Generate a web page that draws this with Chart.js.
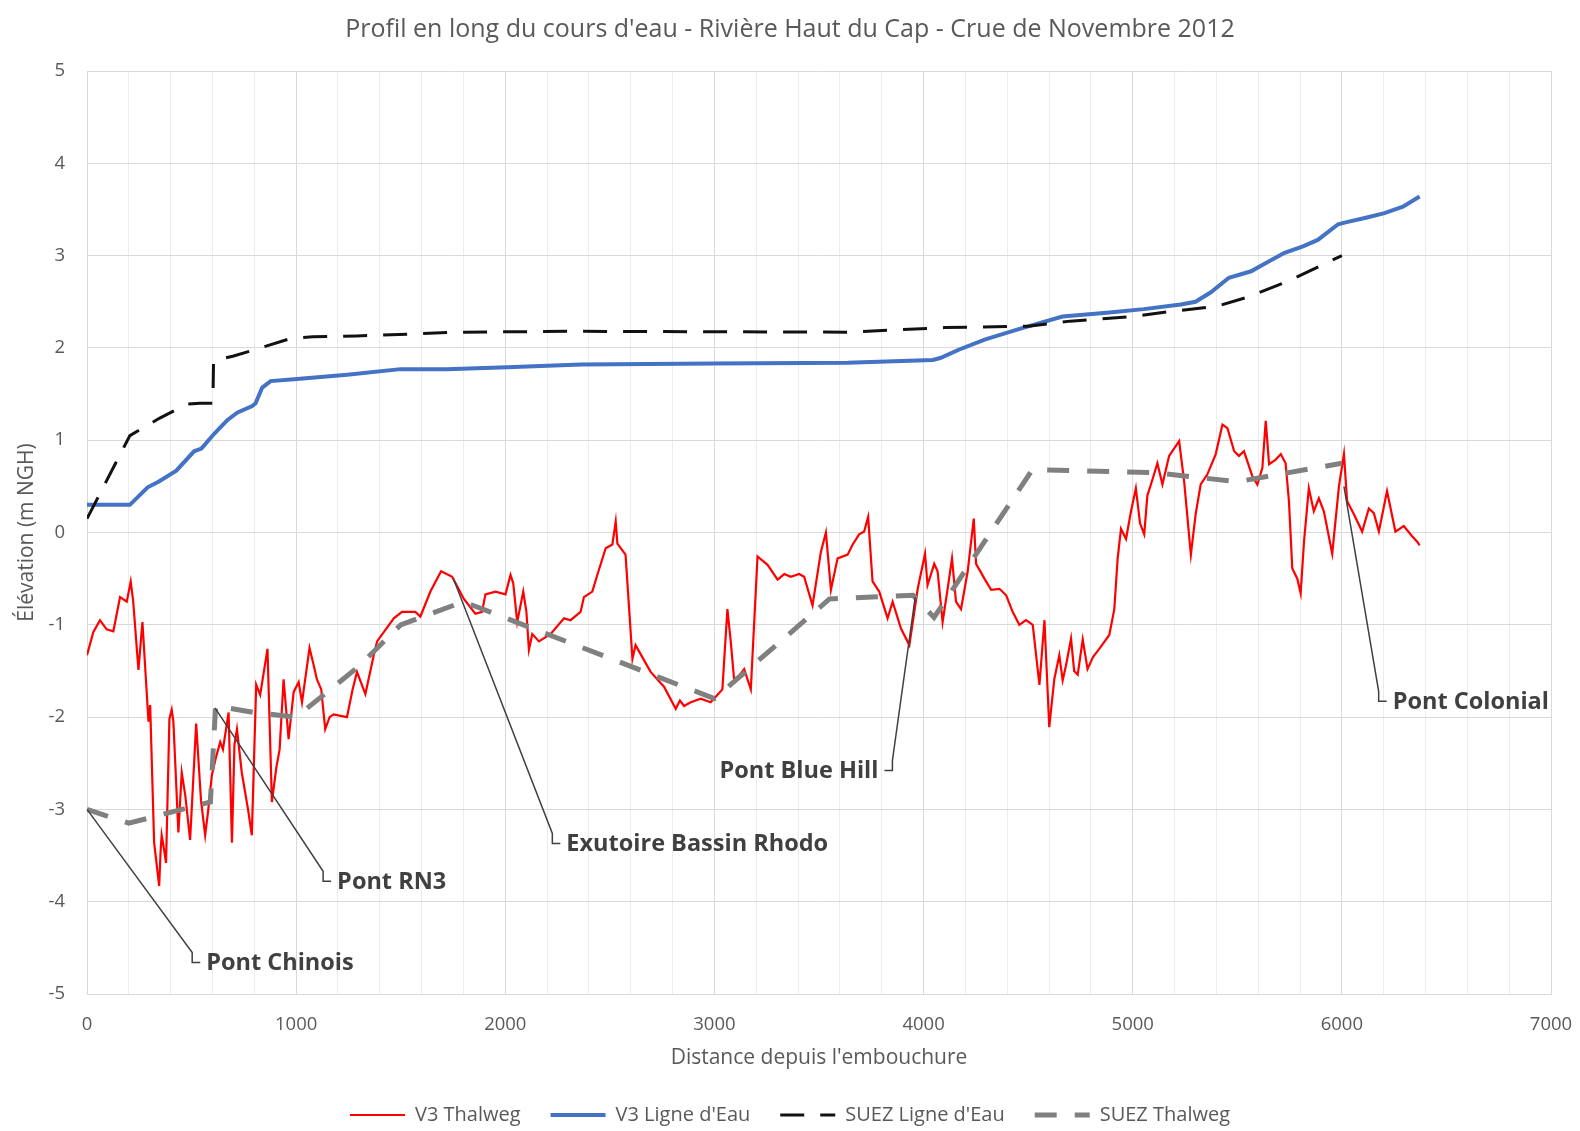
<!DOCTYPE html>
<html>
<head>
<meta charset="utf-8">
<script src="https://cdn.jsdelivr.net/npm/chart.js@4.4.1/dist/chart.umd.min.js"></script>
<style>
  html, body { margin: 0; padding: 0; background: #fff; }
  canvas { display: block; }
</style>
</head>
<body>
<canvas id="chart" width="1580" height="1131"></canvas>
<script>
const TITLE = "Profil en long du cours d'eau - Rivière Haut du Cap - Crue de Novembre 2012"

// V3 Thalweg (red)
const thalwegV3X = [0, 30, 62, 94, 126, 158, 190, 209, 221, 246, 265, 294, 302, 321, 345, 352, 357, 366, 378, 394, 405, 413, 437, 453, 470, 493, 522, 545, 565, 580, 597, 615, 637, 650, 677, 693, 705, 717, 740, 770, 788, 809, 828, 863, 884, 905, 921, 940, 964, 988, 1012, 1028, 1064, 1085, 1099, 1120, 1139, 1160, 1179, 1243, 1270, 1291, 1331, 1371, 1387, 1419, 1467, 1506, 1570, 1594, 1642, 1693, 1746, 1802, 1857, 1889, 1905, 1953, 2001, 2025, 2038, 2057, 2086, 2101, 2113, 2129, 2161, 2217, 2281, 2312, 2360, 2376, 2416, 2440, 2480, 2512, 2528, 2536, 2575, 2608, 2623, 2655, 2695, 2759, 2815, 2835, 2855, 2887, 2934, 2982, 3014, 3038, 3062, 3078, 3094, 3118, 3142, 3174, 3206, 3254, 3302, 3334, 3365, 3405, 3429, 3469, 3509, 3533, 3557, 3589, 3637, 3661, 3692, 3716, 3735, 3756, 3788, 3828, 3852, 3892, 3932, 3972, 4007, 4019, 4051, 4067, 4091, 4115, 4136, 4155, 4179, 4211, 4240, 4251, 4291, 4323, 4363, 4395, 4426, 4458, 4490, 4522, 4554, 4578, 4601, 4625, 4649, 4665, 4681, 4705, 4720, 4737, 4761, 4784, 4810, 4840, 4888, 4912, 4928, 4944, 4968, 4991, 5015, 5035, 5055, 5070, 5087, 5118, 5142, 5174, 5222, 5246, 5278, 5301, 5325, 5357, 5397, 5429, 5453, 5485, 5508, 5532, 5572, 5596, 5620, 5636, 5652, 5684, 5708, 5731, 5747, 5763, 5787, 5803, 5819, 5842, 5866, 5890, 5914, 5954, 5986, 6010, 6025, 6057, 6097, 6129, 6153, 6177, 6216, 6256, 6296, 6336, 6360, 6372]
const thalwegV3Y = [-1.33, -1.08, -0.95, -1.05, -1.07, -0.70, -0.75, -0.53, -0.75, -1.49, -0.97, -2.05, -1.87, -3.36, -3.83, -3.45, -3.28, -3.40, -3.58, -2.02, -1.92, -2.05, -3.25, -2.6, -2.85, -3.33, -2.07, -2.9, -3.28, -3.0, -2.63, -2.45, -2.27, -2.35, -1.95, -3.36, -2.3, -2.13, -2.6, -3.0, -3.28, -1.65, -1.76, -1.26, -2.92, -2.55, -2.35, -1.59, -2.24, -1.73, -1.62, -1.84, -1.25, -1.45, -1.59, -1.7, -2.13, -2.0, -1.97, -2.0, -1.7, -1.51, -1.75, -1.33, -1.18, -1.08, -0.93, -0.86, -0.86, -0.91, -0.64, -0.42, -0.48, -0.72, -0.88, -0.86, -0.67, -0.64, -0.67, -0.46, -0.55, -0.97, -0.64, -0.86, -1.27, -1.10, -1.18, -1.10, -0.93, -0.95, -0.86, -0.70, -0.64, -0.46, -0.17, -0.13, 0.12, -0.12, -0.24, -1.37, -1.22, -1.35, -1.51, -1.67, -1.91, -1.82, -1.88, -1.84, -1.80, -1.84, -1.76, -1.70, -0.83, -1.18, -1.59, -1.55, -1.48, -1.70, -0.26, -0.35, -0.51, -0.45, -0.48, -0.45, -0.48, -0.79, -0.21, 0.0, -0.62, -0.28, -0.24, -0.13, -0.02, 0.01, 0.17, -0.53, -0.64, -0.93, -0.75, -1.04, -1.22, -0.61, -0.23, -0.57, -0.34, -0.42, -0.97, -0.61, -0.28, -0.75, -0.83, -0.42, 0.15, -0.34, -0.5, -0.62, -0.61, -0.68, -0.86, -1.0, -0.95, -1.0, -1.65, -0.95, -2.11, -1.59, -1.33, -1.6, -1.44, -1.15, -1.5, -1.54, -1.16, -1.48, -1.35, -1.26, -1.11, -0.83, -0.28, 0.04, -0.07, 0.22, 0.48, 0.1, -0.02, 0.4, 0.52, 0.75, 0.52, 0.83, 0.99, 0.55, -0.24, 0.2, 0.52, 0.63, 0.85, 1.17, 1.13, 0.88, 0.83, 0.88, 0.61, 0.52, 0.7, 1.21, 0.74, 0.79, 0.85, 0.75, 0.34, -0.39, -0.5, -0.66, -0.1, 0.48, 0.23, 0.37, 0.23, -0.23, 0.5, 0.85, 0.34, 0.2, 0.01, 0.26, 0.21, 0.01, 0.45, 0.01, 0.07, -0.04, -0.1, -0.14]

// V3 Ligne d'Eau (blue)
const ligneV3X = [0, 205, 290, 342, 427, 512, 547, 608, 672, 720, 790, 806, 838, 878, 990, 1244, 1499, 1720, 2009, 2363, 3000, 3637, 4044, 4080, 4168, 4292, 4451, 4664, 4876, 5053, 5230, 5300, 5372, 5460, 5566, 5637, 5726, 5814, 5885, 5982, 6018, 6115, 6204, 6292, 6372]
const ligneV3Y = [0.3, 0.3, 0.49, 0.55, 0.67, 0.88, 0.91, 1.07, 1.22, 1.3, 1.37, 1.4, 1.57, 1.64, 1.66, 1.71, 1.77, 1.77, 1.79, 1.82, 1.83, 1.84, 1.87, 1.89, 1.98, 2.09, 2.2, 2.34, 2.38, 2.42, 2.47, 2.5, 2.6, 2.76, 2.83, 2.92, 3.03, 3.1, 3.17, 3.34, 3.36, 3.41, 3.46, 3.53, 3.64]

// SUEZ Ligne d'Eau (black dashed)
const ligneSuezX = [0, 205, 348, 477, 540, 602, 605, 697, 830, 970, 1080, 1290, 1550, 1760, 2350, 3637, 4100, 4500, 4700, 5000, 5200, 5400, 5550, 5750, 6000]
const ligneSuezY = [0.15, 1.05, 1.24, 1.39, 1.4, 1.4, 1.86, 1.91, 2.0, 2.1, 2.12, 2.13, 2.15, 2.17, 2.18, 2.17, 2.22, 2.235, 2.29, 2.34, 2.4, 2.45, 2.55, 2.73, 3.0]

// SUEZ Thalweg (grey dashed)
const thalwegSuezX = [0, 200, 590, 615, 800, 1000, 1300, 1500, 1800, 3000, 3550, 3950, 4050, 4520, 5100, 5500, 6000]
const thalwegSuezY = [-3.0, -3.15, -2.92, -1.88, -1.95, -2.0, -1.45, -1.0, -0.75, -1.8, -0.72, -0.68, -0.92, 0.68, 0.65, 0.55, 0.75]

// callouts: point on the curve -> elbow of the leader line (data units)
const calloutText = ['Pont Chinois', 'Pont RN3', 'Exutoire Bassin Rhodo', 'Pont Blue Hill', 'Pont Colonial']
const calloutFromX = [0, 612, 1752, 3960, 6010]
const calloutFromY = [-3.0, -1.9, -0.5, -0.7, 0.5]
const calloutElbowX = [503, 1129, 2225, 3851, 6176]
const calloutElbowY = [-4.55, -3.67, -3.26, -2.47, -1.72]
const calloutSide = ['right', 'right', 'right', 'left', 'right']

const X_MIN = 0
const X_MAX = 7000
const X_STEP = 200
const X_MAJOR = 1000
const Y_MIN = -5
const Y_MAX = 5

const pts = (xs, ys) => xs.map((x, i) => ({ x, y: ys[i] }))

const TEXT = '#595959'
const FONT = '"Open Sans", "Liberation Sans", sans-serif'

const calloutPlugin = {
  id: 'callouts',
  afterDatasetsDraw(chart) {
    const { ctx } = chart
    const { x, y } = chart.scales
    ctx.save()
    ctx.strokeStyle = '#404040'
    ctx.fillStyle = '#404040'
    ctx.lineWidth = 1.5
    ctx.font = 'bold 23.5px ' + FONT
    ctx.textBaseline = 'middle'
    calloutText.forEach((text, i) => {
      const dir = calloutSide[i] === 'left' ? -1 : 1
      const px = x.getPixelForValue(calloutFromX[i])
      const py = y.getPixelForValue(calloutFromY[i])
      const ex = x.getPixelForValue(calloutElbowX[i])
      const ey = y.getPixelForValue(calloutElbowY[i])
      ctx.beginPath()
      ctx.moveTo(px, py)
      ctx.lineTo(ex, ey)
      ctx.lineTo(ex, ey + 10)
      ctx.lineTo(ex + dir * 8, ey + 10)
      ctx.stroke()
      ctx.textAlign = dir > 0 ? 'left' : 'right'
      ctx.fillText(text, ex + dir * 14, ey + 11)
    })
    ctx.restore()
  },
}

const legendLabels = (chart) =>
  Chart.defaults.plugins.legend.labels.generateLabels(chart).map((item) => {
    const ds = chart.data.datasets[item.datasetIndex]
    return {
      ...item,
      lineDash: ds.borderDash || [],
      lineWidth: ds.borderWidth,
      strokeStyle: ds.borderColor,
    }
  })

new Chart(document.getElementById('chart'), {
  type: 'line',
  data: {
    datasets: [
      {
        label: 'V3 Thalweg',
        data: pts(thalwegV3X, thalwegV3Y),
        borderColor: '#ff0000',
        backgroundColor: '#ff0000',
        borderWidth: 2.2,
        order: 4,
      },
      {
        label: "V3 Ligne d'Eau",
        data: pts(ligneV3X, ligneV3Y),
        borderColor: '#4472c4',
        backgroundColor: '#4472c4',
        borderWidth: 4,
        order: 3,
      },
      {
        label: "SUEZ Ligne d'Eau",
        data: pts(ligneSuezX, ligneSuezY),
        borderColor: '#111111',
        backgroundColor: '#111111',
        borderWidth: 3,
        borderDash: [24, 16],
        order: 2,
      },
      {
        label: 'SUEZ Thalweg',
        data: pts(thalwegSuezX, thalwegSuezY),
        borderColor: '#808080',
        backgroundColor: '#808080',
        borderWidth: 5,
        borderDash: [22, 18],
        order: 1,
      },
    ],
  },
  options: {
    responsive: false,
    animation: false,
    devicePixelRatio: 1,
    layout: { padding: { left: 0, right: 0, top: 0, bottom: -4 } },
    elements: {
      point: { radius: 0 },
      line: { tension: 0, borderCapStyle: 'butt' },
    },
    scales: {
      x: {
        type: 'linear',
        min: X_MIN,
        max: X_MAX,
        afterFit: (scale) => {
          scale.height = 81
          scale.paddingLeft = 0
          scale.paddingRight = 0
        },
        border: { color: '#d9d9d9' },
        grid: {
          drawTicks: false,
          color: (c) => (c.tick && c.tick.value % X_MAJOR === 0 ? '#d9d9d9' : '#ececec'),
        },
        ticks: {
          stepSize: X_STEP,
          autoSkip: false,
          maxRotation: 0,
          padding: 20,
          color: TEXT,
          font: { family: FONT, size: 18.5 },
          callback: (v) => (v % X_MAJOR === 0 ? String(v) : ''),
        },
        title: {
          display: true,
          text: "Distance depuis l'embouchure",
          color: TEXT,
          font: { family: FONT, size: 21 },
          padding: { top: 0, bottom: 4 },
        },
      },
      y: {
        min: Y_MIN,
        max: Y_MAX,
        afterFit: (scale) => {
          scale.width = 87
          scale.paddingTop = 0
          scale.paddingBottom = 0
        },
        border: { color: '#d9d9d9' },
        grid: { drawTicks: false, color: '#d9d9d9' },
        ticks: {
          stepSize: 1,
          padding: 22,
          color: TEXT,
          font: { family: FONT, size: 18.5 },
        },
        title: {
          display: true,
          text: 'Élévation (m NGH)',
          color: TEXT,
          font: { family: FONT, size: 21 },
          padding: { top: 14, bottom: 0 },
        },
      },
      // empty right-hand margin so the title and legend centre on the full canvas
      margin: {
        type: 'linear',
        position: 'right',
        afterFit: (scale) => {
          scale.width = 29
          scale.paddingTop = 0
          scale.paddingBottom = 0
        },
        grid: { display: false, drawOnChartArea: false },
        border: { display: false },
        ticks: { display: false },
      },
    },
    plugins: {
      title: {
        display: true,
        text: TITLE,
        color: TEXT,
        font: { family: FONT, size: 25, weight: 'normal' },
        padding: { top: 15, bottom: 26 },
      },
      legend: {
        position: 'bottom',
        labels: {
          usePointStyle: true,
          pointStyle: 'line',
          pointStyleWidth: 55,
          padding: 30,
          color: TEXT,
          font: { family: FONT, size: 20 },
          generateLabels: legendLabels,
          sort: (a, b) => a.datasetIndex - b.datasetIndex,
        },
      },
      tooltip: { enabled: false },
    },
  },
  plugins: [calloutPlugin],
})
</script>
</body>
</html>
